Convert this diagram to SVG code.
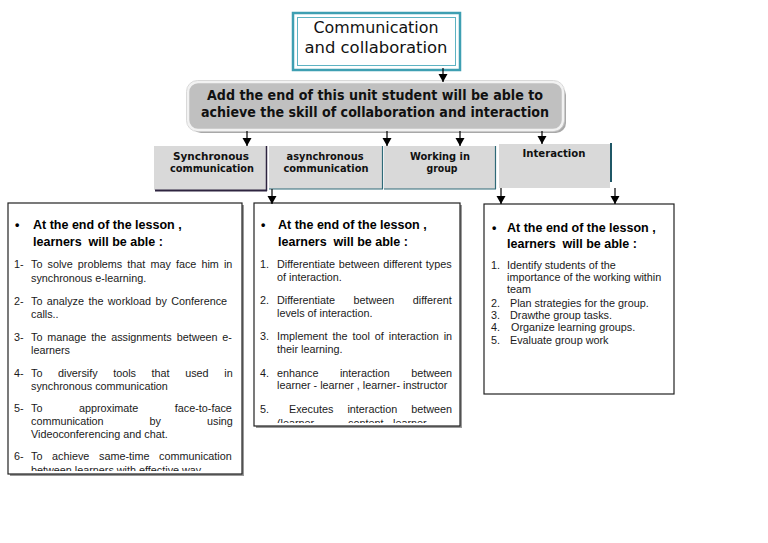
<svg xmlns="http://www.w3.org/2000/svg" width="768" height="543" viewBox="0 0 768 543">
<style>
.dj{font-family:"DejaVu Sans","Liberation Sans",sans-serif;fill:#111}
.djb{font-family:"DejaVu Sans","Liberation Sans",sans-serif;font-weight:bold;fill:#111}
.hd{font-family:"DejaVu Sans","Liberation Sans",sans-serif;font-weight:bold;font-size:10.5px;fill:#111;text-anchor:middle}
.bh{font-family:"Liberation Sans",Arial,sans-serif;font-weight:bold;font-size:12.5px;fill:#000;white-space:pre}
.it{font-family:"Liberation Sans",Arial,sans-serif;font-size:10.8px;fill:#1a1a1a;white-space:pre}
.box{fill:#fff;stroke:#222;stroke-width:1.2}
.shadow{fill:#9a9a9a}
.hbox{fill:#d9d9d9}
.conn line{stroke:#000;stroke-width:1.2}
</style>
<defs>
<marker id="ad" markerUnits="userSpaceOnUse" markerWidth="10" markerHeight="10" refX="5" refY="9" viewBox="0 0 10 10" orient="0">
<path d="M0.5,1 L9.5,1 L5,9 Z" fill="#000"/>
</marker>
<clipPath id="c1"><rect x="8" y="203" width="234" height="268"/></clipPath>
<clipPath id="c2"><rect x="254" y="203" width="206" height="220"/></clipPath>
</defs>

<g id="top">
<rect x="293" y="13" width="167" height="57" fill="#fff" stroke="#3e9fb2" stroke-width="2.5"/>
<rect x="297.5" y="17.5" width="158" height="48" fill="#fff" stroke="#5eb3c3" stroke-width="1"/>
<text class="dj" font-size="16" x="376" y="33" text-anchor="middle" textLength="125" lengthAdjust="spacingAndGlyphs">Communication</text>
<text class="dj" font-size="16" x="376" y="53" text-anchor="middle" textLength="143" lengthAdjust="spacingAndGlyphs">and collaboration</text>
</g>

<g id="goal">
<rect x="191" y="85" width="375" height="48" rx="10" fill="#a8a8a8"/>
<rect x="188" y="82" width="375" height="48" rx="10" fill="#c0c0c0" stroke="#f2f2f2" stroke-width="2.5"/>
<rect x="186.5" y="80.5" width="378" height="51" rx="11" fill="none" stroke="#cfcfcf" stroke-width="0.8"/>
<text class="djb" font-size="14" x="375" y="100" text-anchor="middle" textLength="336" lengthAdjust="spacingAndGlyphs">Add the end of this unit student will be able to</text>
<text class="djb" font-size="14" x="375" y="117" text-anchor="middle" textLength="348" lengthAdjust="spacingAndGlyphs">achieve the skill of collaboration and interaction</text>
</g>

<g id="h-sync">
<rect class="hbox" x="154" y="146" width="112" height="44"/>
<line x1="155" y1="190.5" x2="267" y2="190.5" stroke="#2e2440" stroke-width="2"/>
<line x1="266.5" y1="146" x2="266.5" y2="191" stroke="#2e2440" stroke-width="1.5"/>
<text class="hd" x="211" y="160" textLength="76" lengthAdjust="spacingAndGlyphs">Synchronous</text>
<text class="hd" x="212" y="172" textLength="84" lengthAdjust="spacingAndGlyphs">communication</text>
</g>

<g id="h-async">
<rect class="hbox" x="269" y="146" width="113" height="43"/>
<line x1="269" y1="189" x2="383" y2="189" stroke="#2f6a78" stroke-width="1.2"/>
<line x1="382.5" y1="146" x2="382.5" y2="189" stroke="#2f6a78" stroke-width="1.2"/>
<text class="hd" x="325" y="160" textLength="77" lengthAdjust="spacingAndGlyphs">asynchronous</text>
<text class="hd" x="326" y="172" textLength="85" lengthAdjust="spacingAndGlyphs">communication</text>
</g>

<g id="h-work">
<rect class="hbox" x="384" y="146" width="111" height="43"/>
<line x1="384" y1="189" x2="496" y2="189" stroke="#2f6a78" stroke-width="1.2"/>
<line x1="495.5" y1="146" x2="495.5" y2="189" stroke="#2f6a78" stroke-width="1.2"/>
<text class="hd" x="440" y="160" textLength="60" lengthAdjust="spacingAndGlyphs">Working in</text>
<text class="hd" x="442" y="172" textLength="31" lengthAdjust="spacingAndGlyphs">group</text>
</g>

<g id="h-inter">
<rect class="hbox" x="499" y="144" width="111" height="44"/>
<line x1="611" y1="143" x2="611" y2="182" stroke="#1f5766" stroke-width="2"/>
<text class="hd" x="554" y="157" textLength="63" lengthAdjust="spacingAndGlyphs">Interaction</text>
</g>

<g id="box-sync">
<rect class="shadow" x="10" y="205" width="234" height="271"/>
<rect class="box" x="8" y="203" width="234" height="271"/>
<text class="bh" x="15" y="229">•</text>
<text class="bh" x="33" y="229">At the end of the lesson ,</text>
<text class="bh" x="33" y="246">learners  will be able :</text>
<g clip-path="url(#c1)">
<text class="it" x="14" y="268">1-</text><text class="it" x="31" y="268" word-spacing="2.1">To solve problems that may face him in</text>
<text class="it" x="31" y="282">synchronous e-learning.</text>
<text class="it" x="14" y="305">2-</text><text class="it" x="31" y="305" word-spacing="1.4">To analyze the workload by Conference</text>
<text class="it" x="31" y="318">calls..</text>
<text class="it" x="14" y="341">3-</text><text class="it" x="31" y="341" word-spacing="1.9">To manage the assignments between e-</text>
<text class="it" x="31" y="354">learners</text>
<text class="it" x="14" y="377">4-</text><text class="it" x="31" y="377" word-spacing="12.6">To diversify tools that used in</text>
<text class="it" x="31" y="390">synchronous communication</text>
<text class="it" x="14" y="412">5-</text><text class="it" x="31" y="412" word-spacing="33.5">To approximate face-to-face</text>
<text class="it" x="31" y="425" word-spacing="43">communication by using</text>
<text class="it" x="31" y="438">Videoconferencing and chat.</text>
<text class="it" x="14" y="460">6-</text><text class="it" x="31" y="460" word-spacing="6.7">To achieve same-time communication</text>
<text class="it" x="31" y="474">between learners with effective way</text>
</g>
</g>

<g id="box-async">
<rect class="shadow" x="256" y="205" width="206" height="223"/>
<rect class="box" x="254" y="203" width="206" height="223"/>
<text class="bh" x="261" y="229">•</text>
<text class="bh" x="278" y="229">At the end of the lesson ,</text>
<text class="bh" x="278" y="246">learners  will be able :</text>
<g clip-path="url(#c2)">
<text class="it" x="260" y="268">1.</text><text class="it" x="277" y="268" word-spacing="0.7">Differentiate between different types</text>
<text class="it" x="277" y="281">of interaction.</text>
<text class="it" x="260" y="304">2.</text><text class="it" x="277" y="304" word-spacing="15.5">Differentiate between different</text>
<text class="it" x="277" y="317">levels of interaction.</text>
<text class="it" x="260" y="340">3.</text><text class="it" x="277" y="340" word-spacing="2">Implement the tool of interaction in</text>
<text class="it" x="277" y="353">their learning.</text>
<text class="it" x="260" y="377">4.</text><text class="it" x="277" y="377" word-spacing="18.5">enhance interaction between</text>
<text class="it" x="277" y="389">learner - learner , learner- instructor</text>
<text class="it" x="260" y="413">5.</text><text class="it" x="289" y="413" word-spacing="11">Executes interaction between</text>
<text class="it" y="427"><tspan x="277">(learner</tspan><tspan x="348">content</tspan><tspan x="393">learner</tspan></text>
</g>
</g>

<g id="box-work">
<rect class="box" x="484" y="204" width="190" height="190"/>
<text class="bh" x="492" y="232">•</text>
<text class="bh" x="507" y="232">At the end of the lesson ,</text>
<text class="bh" x="507" y="248">learners  will be able :</text>
<text class="it" x="491" y="269">1.</text><text class="it" x="507" y="269">Identify students of the</text>
<text class="it" x="507" y="281">importance of the working within</text>
<text class="it" x="507" y="293">team</text>
<text class="it" x="491" y="307">2.</text><text class="it" x="510" y="307">Plan strategies for the group.</text>
<text class="it" x="491" y="319">3.</text><text class="it" x="510" y="319">Drawthe group tasks.</text>
<text class="it" x="491" y="331">4.</text><text class="it" x="511" y="331">Organize learning groups.</text>
<text class="it" x="491" y="344">5.</text><text class="it" x="510" y="344">Evaluate group work</text>
</g>

<g id="connectors" class="conn">
<line x1="443" y1="68" x2="443" y2="82" marker-end="url(#ad)"/>
<line x1="247" y1="131" x2="247" y2="146" marker-end="url(#ad)"/>
<line x1="387" y1="131" x2="387" y2="146" marker-end="url(#ad)"/>
<line x1="460" y1="131" x2="460" y2="146" marker-end="url(#ad)"/>
<line x1="542" y1="131" x2="542" y2="144" marker-end="url(#ad)"/>
<line x1="272" y1="189" x2="272" y2="204" marker-end="url(#ad)"/>
<line x1="501" y1="188" x2="501" y2="204" marker-end="url(#ad)"/>
<line x1="615" y1="188" x2="615" y2="204" marker-end="url(#ad)"/>
</g>
</svg>
